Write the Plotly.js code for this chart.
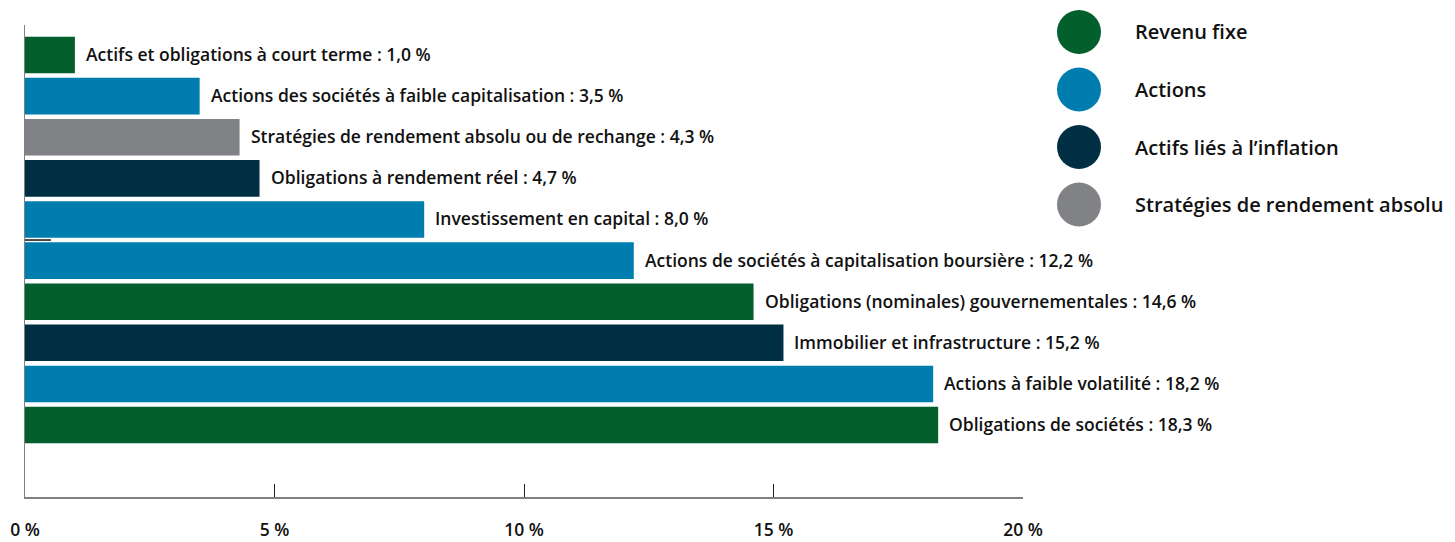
<!DOCTYPE html>
<html>
<head>
<meta charset="utf-8">
<script src="https://cdn.plot.ly/plotly-3.0.1.min.js"></script>
<style>html,body{margin:0;padding:0;background:#fff;}#chart{width:1455px;height:542px;}</style>
</head>
<body>
<div id="chart"></div>
<script>
// Data (top to bottom)
const categories = [
  "Actifs et obligations à court terme",
  "Actions des sociétés à faible capitalisation",
  "Stratégies de rendement absolu ou de rechange",
  "Obligations à rendement réel",
  "Investissement en capital",
  "Actions de sociétés à capitalisation boursière",
  "Obligations (nominales) gouvernementales",
  "Immobilier et infrastructure",
  "Actions à faible volatilité",
  "Obligations de sociétés"
];
const values = [1.0, 3.5, 4.3, 4.7, 8.0, 12.2, 14.6, 15.2, 18.2, 18.3];
const groups = ["Revenu fixe","Actions","Stratégies de rendement absolu","Actifs liés à l’inflation","Actions","Actions","Revenu fixe","Actifs liés à l’inflation","Actions","Revenu fixe"];
const legendNames = ["Revenu fixe","Actions","Actifs liés à l’inflation","Stratégies de rendement absolu"];
const tickVals = [0, 5, 10, 15, 20];
const tickLabels = ["0 %", "5 %", "10 %", "15 %", "20 %"];

const groupColors = {
  "Revenu fixe": "#03602D",
  "Actions": "#007DAF",
  "Actifs liés à l’inflation": "#002F43",
  "Stratégies de rendement absolu": "#818285"
};

const FONT = "'Open Sans', 'Noto Sans', sans-serif";
const fmt = v => v.toFixed(1).replace('.', ',') + ' %';

const trace = {
  type: 'bar',
  orientation: 'h',
  x: values,
  y: categories,
  marker: {color: groups.map(g => groupColors[g])},
  hoverinfo: 'none',
  showlegend: false
};

const margin = {l: 25, r: 432, t: 25, b: 45};
const H = 542;
const plotH = H - margin.t - margin.b;
const plotW = 1455 - margin.l - margin.r;

const annotations = categories.map((c, i) => ({
  x: values[i], y: c, xref: 'x', yref: 'y',
  text: c + ' : ' + fmt(values[i]),
  showarrow: false, xanchor: 'left', yanchor: 'middle', xshift: 9, yshift: 1,
  font: {family: FONT, size: 17.5, color: '#111', weight: 600}
}));

const shapes = [];
const legTop = 32, legStep = 57.5;
legendNames.forEach((n, k) => {
  const cy = legTop + k * legStep;
  shapes.push({
    type: 'circle', xref: 'paper', yref: 'paper', xsizemode: 'pixel', ysizemode: 'pixel',
    xanchor: (1079 - margin.l) / plotW, yanchor: (H - margin.b - cy) / plotH,
    x0: -22, x1: 22, y0: -22, y1: 22,
    fillcolor: groupColors[n], line: {width: 0}
  });
  annotations.push({
    xref: 'paper', yref: 'paper',
    x: (1133 - margin.l) / plotW, y: (H - margin.b - cy) / plotH,
    showarrow: false, xanchor: 'left', yanchor: 'middle', text: n,
    font: {family: FONT, size: 20, color: '#111', weight: 600}
  });
});

// small stray line between bars
shapes.push({type: 'line', xref: 'x', yref: 'y', x0: 0, x1: 0.52, y0: 4.5, y1: 4.5, line: {color: '#111', width: 1.5}});

const layout = {
  width: 1455, height: 542,
  margin: margin,
  paper_bgcolor: '#fff', plot_bgcolor: '#fff',
  showlegend: false,
  bargap: 0.11,
  xaxis: {
    range: [0, 20], tickvals: tickVals, ticktext: tickLabels,
    showgrid: false, zeroline: false,
    showline: true, linecolor: '#808080', linewidth: 1.5,
    ticks: 'inside', ticklen: 13, tickcolor: '#222', tickwidth: 1,
    ticklabelstandoff: 16,
    tickfont: {family: FONT, size: 17.5, color: '#111', weight: 600},
    fixedrange: true
  },
  yaxis: {
    type: 'category', range: [10.75, -0.73],
    showticklabels: false, showgrid: false, zeroline: false,
    showline: true, linecolor: '#808080', linewidth: 1.5, ticks: '',
    fixedrange: true
  },
  annotations: annotations,
  shapes: shapes
};

Plotly.newPlot('chart', [trace], layout, {displayModeBar: false, staticPlot: true});
</script>
</body>
</html>
